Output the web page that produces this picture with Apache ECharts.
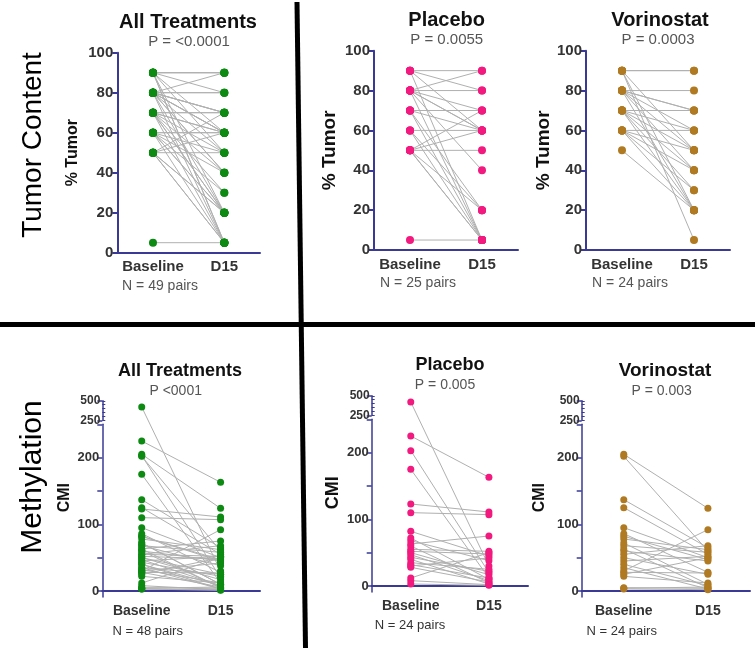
<!DOCTYPE html>
<html>
<head>
<meta charset="utf-8">
<script src="https://cdn.jsdelivr.net/npm/echarts@6/dist/echarts.min.js"></script>
<style>
html,body{margin:0;padding:0;background:#fff;}
#chart{width:755px;height:650px;}
</style>
</head>
<body>
<div id="chart"></div>
<script>
// ---------------- DATA ----------------
const categories = ['Baseline', 'D15'];
const tumorTicks = [0, 20, 40, 60, 80, 100];
const cmiTicks = [0, 50, 100, 150, 200, 250];
const cmiLabels = [0, 100, 200];
const cmiBreakLabels = [250, 500];
const cmiBreakMinorTicks = [250, 300, 350, 400, 450, 500];

const tumorPlaceboBaseline = [90,90,90,80,80,80,80,80,80,80,70,70,70,70,60,60,60,50,50,50,50,50,50,5,90];
const tumorPlaceboD15      = [90,80,5,90,80,70,60,60,40,5,70,60,20,5,60,20,5,70,60,50,20,5,5,5,60];

const tumorVorinostatBaseline = [90,90,90,90,90,80,80,80,80,80,80,70,70,70,70,70,70,60,60,60,60,50,80,60];
const tumorVorinostatD15      = [90,90,20,5,50,80,70,70,50,40,20,70,60,40,30,20,50,60,50,40,30,20,60,20];

const cmiPlaceboBaseline = [420,225,203,175,123,110,82,72,68,63,60,55,52,50,47,43,40,35,32,30,28,12,8,3];
const cmiPlaceboD15      = [30,163,20,12,111,107,45,10,38,75,5,52,48,17,8,22,3,25,12,42,6,50,2,1];

const cmiVorinostatBaseline = [205,202,137,125,95,86,82,78,72,68,63,60,55,50,45,40,35,30,28,25,22,5,3,4];
const cmiVorinostatD15      = [124,60,65,55,50,28,47,62,10,58,5,45,68,25,52,8,3,92,27,50,12,4,2,6];

const tumorAllBaseline = tumorPlaceboBaseline.concat(tumorVorinostatBaseline);
const tumorAllD15 = tumorPlaceboD15.concat(tumorVorinostatD15);
const cmiAllBaseline = cmiPlaceboBaseline.concat(cmiVorinostatBaseline);
const cmiAllD15 = cmiPlaceboD15.concat(cmiVorinostatD15);

// ---------------- STYLE ----------------
const AXIS = '#3a3a96';
const FONT = '"Liberation Sans", Arial, sans-serif';
const LINE = '#b0b0b0';
const GREEN = '#0c8a12';
const PINK = '#f2197f';
const BROWN = '#b07a22';

const option = {
  animation: false,
  backgroundColor: '#fff',
  grid: [], xAxis: [], yAxis: [], series: [], graphic: []
};

function lineRender(params, api) {
  const p0 = api.coord([0, api.value(1)]);
  const p1 = api.coord([1, api.value(2)]);
  return { type: 'line', shape: { x1: p0[0], y1: p0[1], x2: p1[0], y2: p1[1] },
           style: { stroke: LINE, lineWidth: 1 } };
}

function addXAxis(gi, fs, show) {
  option.xAxis.push({
    type: 'category', gridIndex: gi, data: categories, boundaryGap: true, show: show,
    axisLine: { lineStyle: { color: AXIS, width: 2 } },
    axisTick: { alignWithLabel: true, length: 4, lineStyle: { color: AXIS, width: 2 } },
    axisLabel: { interval: 0, hideOverlap: false, color: '#333', fontWeight: 'bold', fontSize: fs, fontFamily: FONT, margin: 7 },
    splitLine: { show: false }
  });
}

function addSeries(gi, yi, base, d15, color, size, T) {
  option.series.push({
    type: 'custom', xAxisIndex: gi, yAxisIndex: yi, silent: true, z: 1,
    encode: { x: 0, y: [1, 2] },
    data: base.map((b, i) => [0, T(b), T(d15[i])]),
    renderItem: lineRender
  });
  option.series.push({
    type: 'scatter', xAxisIndex: gi, yAxisIndex: yi, z: 3, clip: false, silent: true,
    symbolSize: size, itemStyle: { color: color, opacity: 1 },
    data: base.map(b => [0, T(b)])
  });
  option.series.push({
    type: 'scatter', xAxisIndex: gi, yAxisIndex: yi, z: 3, clip: false, silent: true,
    symbolSize: size, itemStyle: { color: color, opacity: 1 },
    data: d15.map(v => [1, T(v)])
  });
}

function tumorPanel(p) {
  const gi = option.grid.length;
  option.grid.push({ left: p.left, top: p.top, width: p.width, height: p.height });
  addXAxis(gi, 15, true);
  const yi = option.yAxis.length;
  option.yAxis.push({
    type: 'value', gridIndex: gi, min: 0, max: 100, interval: 20,
    name: '% Tumor', nameLocation: 'middle', nameRotate: 90, nameGap: p.nameGap,
    nameTextStyle: { color: '#111', fontWeight: 'bold', fontSize: p.nameSize, fontFamily: FONT },
    axisLine: { show: true, lineStyle: { color: AXIS, width: 2 } },
    axisTick: { show: true, length: 5, lineStyle: { color: AXIS, width: 2 }, customValues: tumorTicks },
    axisLabel: { color: '#333', fontWeight: 'bold', fontSize: 15, fontFamily: FONT, margin: 4, customValues: tumorTicks },
    splitLine: { show: false }
  });
  addSeries(gi, yi, p.base, p.d15, p.color, 8, v => v);
}

function cmiPanel(p) {
  const MIN = -9, MAX = 250;
  const unitPx = p.height / (MAX - MIN);
  const gapU = 4 / unitPx;
  const segPx = 19.5;
  const k = (segPx / unitPx) / 250;
  const T = v => (v <= 250 ? v : 250 + gapU + (v - 250) * k);

  // main (lower) segment
  const gi = option.grid.length;
  option.grid.push({ left: p.left, top: p.top, width: p.width, height: p.height });
  addXAxis(gi, 14, true);
  const yi = option.yAxis.length;
  option.yAxis.push({
    type: 'value', gridIndex: gi, min: MIN, max: MAX, position: 'left',
    name: 'CMI', nameLocation: 'middle', nameRotate: 90, nameGap: p.nameGap,
    nameTextStyle: { color: '#111', fontWeight: 'bold', fontSize: p.nameSize, fontFamily: FONT, padding: [0, 0, 0, 26] },
    axisLine: { show: true, onZero: false, lineStyle: { color: AXIS, width: 1.5 } },
    axisTick: { show: true, length: 5, lineStyle: { color: AXIS, width: 1.5 }, customValues: cmiTicks },
    axisLabel: { color: '#333', fontWeight: 'bold', fontSize: 13, fontFamily: FONT, margin: 3, customValues: cmiLabels },
    splitLine: { show: false }
  });

  // upper (compressed) segment 250-500
  const gu = option.grid.length;
  option.grid.push({ left: p.left, top: p.top - 4 - segPx, width: p.width, height: segPx });
  addXAxis(gu, 14, false);
  option.yAxis.push({
    type: 'value', gridIndex: gu, min: 250, max: 500, position: 'left',
    axisLine: { show: true, onZero: false, lineStyle: { color: AXIS, width: 1.5 } },
    axisTick: { show: true, length: 5, lineStyle: { color: AXIS, width: 1.5 }, customValues: cmiBreakLabels },
    axisLabel: { color: '#333', fontWeight: 'bold', fontSize: 12, fontFamily: FONT, margin: 2, customValues: cmiBreakLabels },
    splitLine: { show: false }
  });
  option.yAxis.push({
    type: 'value', gridIndex: gu, min: 250, max: 500, position: 'left',
    axisLine: { show: false },
    axisTick: { show: true, inside: true, length: 3, lineStyle: { color: AXIS, width: 1 }, customValues: cmiBreakMinorTicks },
    axisLabel: { show: false },
    splitLine: { show: false }
  });

  addSeries(gi, yi, p.base, p.d15, p.color, 7, T);
}

// Tumor content row
tumorPanel({ left: 117.3, top: 52.7, width: 142.7, height: 200, nameGap: 37, nameSize: 16,
  base: tumorAllBaseline, d15: tumorAllD15, color: GREEN });
tumorPanel({ left: 374, top: 50.7, width: 144, height: 199.3, nameGap: 35, nameSize: 19,
  base: tumorPlaceboBaseline, d15: tumorPlaceboD15, color: PINK });
tumorPanel({ left: 586, top: 50.7, width: 144, height: 199.3, nameGap: 31, nameSize: 19,
  base: tumorVorinostatBaseline, d15: tumorVorinostatD15, color: BROWN });

// Methylation row
cmiPanel({ left: 102.3, top: 424.3, width: 157.7, height: 172.7, nameGap: 30, nameSize: 16,
  base: cmiAllBaseline, d15: cmiAllD15, color: GREEN });
cmiPanel({ left: 371.7, top: 419.3, width: 156.3, height: 172.7, nameGap: 30, nameSize: 18,
  base: cmiPlaceboBaseline, d15: cmiPlaceboD15, color: PINK });
cmiPanel({ left: 581.7, top: 424.3, width: 168.3, height: 172.7, nameGap: 34, nameSize: 16,
  base: cmiVorinostatBaseline, d15: cmiVorinostatD15, color: BROWN });

// ---------------- TEXT & DIVIDERS ----------------
function txt(s, x, y, size, weight, color, rot) {
  option.graphic.push({
    type: 'text', x: x, y: y, rotation: rot || 0, silent: true,
    style: { text: s, fill: color, font: (weight || 'normal') + ' ' + size + 'px ' + FONT,
             align: 'center', verticalAlign: 'middle' }
  });
}
txt('Tumor Content', 33, 145, 28, 'normal', '#000', Math.PI / 2);
txt('Methylation', 33, 477, 30, 'normal', '#000', Math.PI / 2);

txt('All Treatments', 188, 22.7, 20, 'bold', '#111');
txt('P = <0.0001', 189, 42, 15, 'normal', '#555');
txt('N = 49 pairs', 160, 285.7, 14, 'normal', '#555');

txt('Placebo', 446.7, 20.7, 20, 'bold', '#111');
txt('P = 0.0055', 446.7, 40, 15, 'normal', '#555');
txt('N = 25 pairs', 418, 283, 14, 'normal', '#555');

txt('Vorinostat', 660, 20, 20, 'bold', '#111');
txt('P = 0.0003', 658, 40, 15, 'normal', '#555');
txt('N = 24 pairs', 630, 283, 14, 'normal', '#555');

txt('All Treatments', 180, 370.7, 18, 'bold', '#111');
txt('P <0001', 175.7, 391, 14, 'normal', '#555');
txt('N = 48 pairs', 147.7, 631.7, 13, 'normal', '#333');

txt('Placebo', 450, 365, 18, 'bold', '#111');
txt('P = 0.005', 445, 385, 14, 'normal', '#555');
txt('N = 24 pairs', 410, 625, 13, 'normal', '#333');

txt('Vorinostat', 665, 370.7, 19, 'bold', '#111');
txt('P = 0.003', 661.7, 390.7, 14, 'normal', '#555');
txt('N = 24 pairs', 621.7, 631.7, 13, 'normal', '#333');

option.graphic.push({ type: 'rect', silent: true, shape: { x: 0, y: 322, width: 755, height: 5 }, style: { fill: '#000' } });
option.graphic.push({ type: 'line', silent: true, shape: { x1: 297, y1: 2, x2: 305.5, y2: 648 }, style: { stroke: '#000', lineWidth: 5 } });

const chart = echarts.init(document.getElementById('chart'), null, { renderer: 'canvas' });
chart.setOption(option);
</script>
</body>
</html>
